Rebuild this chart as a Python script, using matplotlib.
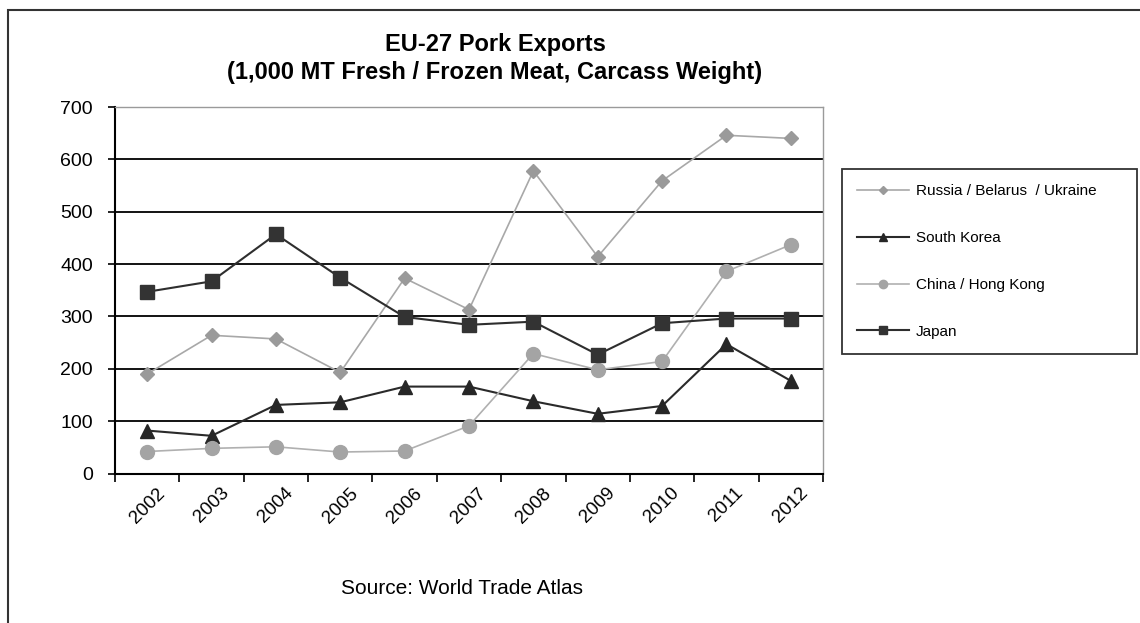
import matplotlib
matplotlib.use('Agg')
import matplotlib.pyplot as plt
import matplotlib.patches as mpatches
import numpy as np

years = ['2002', '2003', '2004', '2005', '2006', '2007',
         '2008', '2009', '2010', '2011', '2012']
russia = [190, 264, 257, 193, 373, 313, 578, 414, 559, 646, 640]
south_korea = [82, 72, 131, 136, 166, 166, 138, 114, 129, 247, 177]
china = [42, 48, 51, 41, 43, 91, 229, 198, 214, 386, 437]
japan = [347, 367, 457, 374, 299, 284, 290, 227, 287, 296, 296]

plt.rcParams['font.family'] = ['Liberation Sans', 'DejaVu Sans']

fig = plt.figure(figsize=(11.4, 6.23), dpi=100)
ax = fig.add_axes([115 / 1140, 149.5 / 623, 708 / 1140, 366.5 / 623])

x = np.arange(len(years))

ax.plot(x, russia, color='#a8a8a8', lw=1.2, marker='D', ms=7,
        mfc='#9a9a9a', mec='#9a9a9a', label='Russia / Belarus  / Ukraine', zorder=3)
ax.plot(x, south_korea, color='#2a2a2a', lw=1.5, marker='^', ms=10,
        mfc='#262626', mec='#262626', label='South Korea', zorder=4)
ax.plot(x, china, color='#b0b0b0', lw=1.2, marker='o', ms=10,
        mfc='#a4a4a4', mec='#a4a4a4', label='China / Hong Kong', zorder=5)
ax.plot(x, japan, color='#2e2e2e', lw=1.5, marker='s', ms=10.5,
        mfc='#333333', mec='#333333', label='Japan', zorder=6)

ax.set_xlim(-0.5, len(years) - 0.5)
ax.set_ylim(0, 700)

# horizontal gridlines
for v in range(100, 700, 100):
    ax.axhline(v, color='black', lw=1.3, zorder=1)

ax.set_yticks(range(0, 701, 100))
ax.tick_params(axis='y', direction='out', length=5, width=1.2, labelsize=14, pad=11)

ax.set_xticks(x)
ax.set_xticklabels(years, rotation=45, ha='center', va='top', fontsize=13.5)
ax.set_xticks(np.arange(-0.5, len(years), 1), minor=True)
ax.tick_params(axis='x', which='major', length=0, pad=8)
ax.tick_params(axis='x', which='minor', direction='out', length=6, width=1.2)

ax.spines['left'].set_color('black')
ax.spines['left'].set_linewidth(1.5)
ax.spines['bottom'].set_color('black')
ax.spines['bottom'].set_linewidth(1.5)
for side in ('top', 'right'):
    ax.spines[side].set_color('#9a9a9a')
    ax.spines[side].set_linewidth(1.0)

fig.text(495 / 1140, 1 - 44 / 623, 'EU-27 Pork Exports', ha='center', va='center',
         fontsize=17, fontweight='bold')
fig.text(495 / 1140, 1 - 72 / 623, '(1,000 MT Fresh / Frozen Meat, Carcass Weight)',
         ha='center', va='center', fontsize=17, fontweight='bold')

fig.text(462 / 1140, 1 - 588 / 623, 'Source: World Trade Atlas', ha='center',
         va='center', fontsize=15)

leg = fig.legend(loc='upper left',
                 bbox_to_anchor=(842 / 1140, 1 - 169 / 623 - 0.01, 295 / 1140, 0.01),
                 mode='expand', fontsize=11, frameon=True, fancybox=False,
                 markerscale=0.6, labelspacing=2.15, borderpad=1.0,
                 handlelength=3.4, handletextpad=0.45, borderaxespad=0)
leg.get_frame().set_edgecolor('black')
leg.get_frame().set_linewidth(1.3)

# outer frame around the whole chart
fig.patches.append(mpatches.Rectangle((8 / 1140, -0.1), 1.2, 1.1 - 10 / 623,
                                      transform=fig.transFigure, fill=False,
                                      ec='#333333', lw=1.5))

fig.savefig('out.png', dpi=100)
